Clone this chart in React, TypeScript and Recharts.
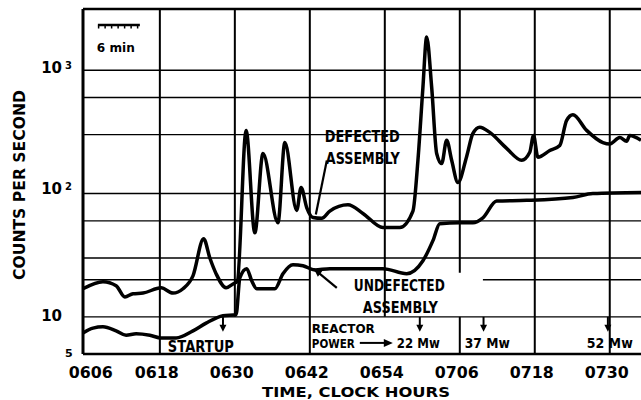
import React from 'react';
import { LineChart, Line, XAxis, YAxis, CartesianGrid, ReferenceLine, ReferenceDot } from 'recharts';

// minutes after 0606
const timeTicks = [0, 12, 24, 36, 48, 60, 72, 84];
const timeLabels = ['0606', '0618', '0630', '0642', '0654', '0706', '0718', '0730'];
const countGridTicks = [5, 10, 30, 40, 50, 60, 70, 80, 90, 100, 200, 300, 400, 500, 600, 700, 800, 900, 1000];

const defectedTime = [
  -0.3, 2.9, 5.0, 6.4, 7.7, 9.3, 12.2, 14.1, 15.7, 17.3, 19.0, 20.0, 21.0, 22.6, 23.7, 24.4,
  25.8, 27.2, 28.5, 30.9, 32.0, 33.9, 34.6, 35.5, 36.5, 37.9, 39.2, 42.1, 44.5, 47.7, 50.4, 52.5,
  53.3, 54.1, 54.7, 55.5, 56.3, 57.1, 57.9, 58.7, 59.7, 61.1, 62.1, 63.2, 64.8, 67.5, 69.9, 71.2,
  71.8, 72.5, 74.4, 76.0, 77.1, 78.1, 80.3, 82.9, 84.0, 85.6, 86.7, 87.2, 89.0,
];
const defectedCounts = [
  16.9, 19.3, 17.9, 14.5, 15.4, 15.6, 17.2, 15.6, 16.9, 21.5, 43, 30, 22.4, 17.2, 18.5, 19.5,
  325, 48, 211, 58, 259, 73, 112, 77, 64, 63, 72, 81, 69, 53, 53, 72,
  186, 727, 1854, 727, 211, 175, 270, 186, 123, 200, 307, 345, 313, 232, 186, 216,
  296, 197, 223, 245, 392, 435, 325, 259, 252, 284, 265, 296, 270,
];

const undefectedTime = [
  -0.3, 1.3, 2.9, 5.0, 6.6, 8.2, 10.4, 12.2, 14.6, 17.3, 19.4, 22.1, 24.2, 24.8, 25.9, 26.7,
  27.5, 30.4, 31.7, 33.3, 34.9, 36.8, 39.2, 47.7, 51.5, 54.1, 55.7, 56.8, 60.0, 62.1, 63.7,
  65.9, 70.7, 78.1, 81.3, 89.0,
];
const undefectedCounts = [
  7.4, 8.1, 8.3, 7.7, 7.1, 7.3, 7.1, 6.75, 6.75, 7.7, 8.9, 10.2, 10.4, 20.7, 24.6, 19.6,
  16.9, 16.9, 22.4, 26.5, 26, 24, 24.6, 24.6, 22.4, 28.5, 41.5, 57, 58, 58, 63.6,
  87, 88, 93, 100, 102,
];

const defectedData = defectedTime.map((t, i) => ({ t, c: defectedCounts[i] }));
const undefectedData = undefectedTime.map((t, i) => ({ t, c: undefectedCounts[i] }));

const X_MIN = -0.3;
const X_MAX = 89;
const Y_MIN = 5;
const Y_MAX = 3133;

const FONT = "'DejaVu Sans', 'Liberation Sans', sans-serif";

const annotations = [
  { text: 'DEFECTED', t: 38.4, v: 260, len: 75, size: 15 },
  { text: 'ASSEMBLY', t: 38.56, v: 175, len: 74, size: 15 },
  { text: 'UNDEFECTED', t: 43.04, v: 16.3, len: 91, size: 15 },
  { text: 'ASSEMBLY', t: 44.48, v: 10.78, len: 75, size: 15 },
  { text: 'STARTUP', t: 13.28, v: 5.19, len: 66, size: 15 },
  { text: 'REACTOR', t: 36.32, v: 7.41, len: 63, size: 13 },
  { text: 'POWER', t: 36.32, v: 5.6, len: 43, size: 13 },
  { text: '22 Mw', t: 49.92, v: 5.6, len: 43, size: 14 },
  { text: '37 Mw', t: 60.8, v: 5.6, len: 45, size: 14 },
  { text: '52 Mw', t: 80.32, v: 5.6, len: 46, size: 14 },
  { text: '6 min', t: 1.92, v: 1401, len: 38, size: 13 },
];

const powerArrows = [22.1, 53.6, 63.8, 83.7];

const XTick = (props: any) => {
  const { x, y, payload } = props;
  const idx = timeTicks.indexOf(payload.value);
  const dx = payload.value === 0 ? 6 : -3;
  return (
    <text x={x + dx} y={y + 16} textAnchor="middle" fontFamily={FONT} fontWeight="bold" fontSize={16}
      textLength={44} lengthAdjust="spacingAndGlyphs" fill="#000">
      {timeLabels[idx]}
    </text>
  );
};

const YTick = (props: any) => {
  const { y, payload } = props;
  const v = payload.value;
  const common = { fontFamily: FONT, fontWeight: 'bold' as const, fill: '#000' };
  if (v === 1000 || v === 100) {
    const dy = v === 1000 ? 3 : 0;
    return (
      <g>
        <text x={62} y={y + dy} textAnchor="end" fontSize={15} {...common}>10</text>
        <text x={65} y={y + dy - 4} fontSize={10} {...common}>{v === 1000 ? '3' : '2'}</text>
      </g>
    );
  }
  if (v === 10) {
    return <text x={62} y={y + 4} textAnchor="end" fontSize={15} {...common}>10</text>;
  }
  if (v === 5) {
    return <text x={65} y={y + 3} fontSize={11} {...common}>5</text>;
  }
  return <g />;
};

const textShape = (a: any) => (p: any) => (
  <text x={p.cx} y={p.cy} fontFamily={FONT} fontWeight="bold" fontSize={a.size} fill="#000"
    textLength={a.len} lengthAdjust="spacingAndGlyphs">
    {a.text}
  </text>
);

const downArrow = (p: any) => (
  <g>
    <line x1={p.cx} y1={p.cy} x2={p.cx} y2={p.cy + 10} stroke="#000" strokeWidth={2} />
    <path d={`M${p.cx - 3.5},${p.cy + 8} L${p.cx + 3.5},${p.cy + 8} L${p.cx},${p.cy + 15} Z`} fill="#000" />
  </g>
);

const rightArrow = (p: any) => (
  <g>
    <line x1={p.cx} y1={p.cy} x2={p.cx + 27} y2={p.cy} stroke="#000" strokeWidth={2} />
    <path d={`M${p.cx + 24},${p.cy - 4} L${p.cx + 33},${p.cy} L${p.cx + 24},${p.cy + 4} Z`} fill="#000" />
  </g>
);

const leaderHead = (p: any) => (
  <path d={`M${p.cx},${p.cy} L${p.cx + 8.4},${p.cy + 2.4} L${p.cx + 4},${p.cy + 7.8} Z`} fill="#000" />
);

export default function App() {
  return (
    <div style={{ position: 'absolute', left: 0, top: 0, width: 641, height: 400, background: '#fff' }}>
      <LineChart width={641} height={400} margin={{ top: 9, right: 0, bottom: 0, left: 0 }}>
        <CartesianGrid vertical={false} stroke="#000" strokeWidth={1.4} strokeOpacity={1} />
        <XAxis dataKey="t" type="number" domain={[X_MIN, X_MAX]} ticks={timeTicks} allowDataOverflow
          height={46} tickLine={false} axisLine={{ stroke: '#000', strokeWidth: 2.5 }} tick={<XTick />}
          label={() => (
            <text x={356} y={397} textAnchor="middle" fontFamily={FONT} fontWeight="bold" fontSize={14}
              textLength={188} lengthAdjust="spacingAndGlyphs" fill="#000">TIME, CLOCK HOURS</text>
          )} />
        <YAxis type="number" scale="log" domain={[Y_MIN, Y_MAX]} ticks={countGridTicks} allowDataOverflow
          width={83} tickLine={false} axisLine={{ stroke: '#000', strokeWidth: 3 }} tick={<YTick />}
          label={() => (
            <text x={0} y={0} transform="translate(25,185) rotate(-90)" textAnchor="middle" fontFamily={FONT}
              fontWeight="bold" fontSize={16} textLength={190} lengthAdjust="spacingAndGlyphs" fill="#000">
              COUNTS PER SECOND
            </text>
          )} />

        {/* top border */}
        <ReferenceLine y={Y_MAX} stroke="#000" strokeWidth={2.5} ifOverflow="visible" />
        {/* partial 20 grid line */}
        <ReferenceLine segment={[{ x: X_MIN, y: 20 }, { x: 36, y: 20 }]} stroke="#000" strokeWidth={1.4} />
        <ReferenceLine segment={[{ x: 63.7, y: 20 }, { x: X_MAX, y: 20 }]} stroke="#000" strokeWidth={1.4} />

        {/* vertical grid lines */}
        <ReferenceLine segment={[{ x: 12, y: Y_MIN }, { x: 12, y: Y_MAX }]} stroke="#000" strokeWidth={2} ifOverflow="visible" />
        <ReferenceLine segment={[{ x: 24, y: 10 }, { x: 24, y: Y_MAX }]} stroke="#000" strokeWidth={2} ifOverflow="visible" />
        <ReferenceLine segment={[{ x: 36, y: Y_MIN }, { x: 36, y: Y_MAX }]} stroke="#000" strokeWidth={2} ifOverflow="visible" />
        <ReferenceLine segment={[{ x: 48, y: 10 }, { x: 48, y: Y_MAX }]} stroke="#000" strokeWidth={2} ifOverflow="visible" />
        <ReferenceLine segment={[{ x: 60, y: 22.8 }, { x: 60, y: Y_MAX }]} stroke="#000" strokeWidth={2} ifOverflow="visible" />
        <ReferenceLine segment={[{ x: 60, y: Y_MIN }, { x: 60, y: 10 }]} stroke="#000" strokeWidth={2} ifOverflow="visible" />
        <ReferenceLine segment={[{ x: 72, y: Y_MIN }, { x: 72, y: Y_MAX }]} stroke="#000" strokeWidth={2} ifOverflow="visible" />
        <ReferenceLine segment={[{ x: 84, y: Y_MIN }, { x: 84, y: Y_MAX }]} stroke="#000" strokeWidth={2} ifOverflow="visible" />

        {/* 6 min scale bar */}
        <ReferenceLine segment={[{ x: 2.08, y: 2322 }, { x: 8.8, y: 2322 }]} stroke="#000" strokeWidth={2.5} />
        <ReferenceLine segment={[{ x: 2.08, y: 2237 }, { x: 8.8, y: 2237 }]} stroke="#000" strokeWidth={3} strokeDasharray="1.5 5" />

        {/* leader lines */}
        <ReferenceLine segment={[{ x: 38.72, y: 185.5 }, { x: 36.96, y: 67.5 }]} stroke="#000" strokeWidth={2.2} />
        <ReferenceLine segment={[{ x: 40.32, y: 17.2 }, { x: 36.64, y: 24.5 }]} stroke="#000" strokeWidth={2.2} />
        <ReferenceDot x={36.64} y={24.5} r={0} ifOverflow="visible" shape={leaderHead} />

        <Line data={undefectedData} dataKey="c" type="monotone" dot={false} stroke="#000" strokeWidth={3.5}
          isAnimationActive={false} />
        <Line data={defectedData} dataKey="c" type="monotone" dot={false} stroke="#000" strokeWidth={3.5}
          isAnimationActive={false} />

        {annotations.map((a, i) => (
          <ReferenceDot key={'a' + i} x={a.t} y={a.v} r={0} ifOverflow="visible" shape={textShape(a)} />
        ))}
        {powerArrows.map((t, i) => (
          <ReferenceDot key={'p' + i} x={t} y={10} r={0} ifOverflow="visible" shape={downArrow} />
        ))}
        <ReferenceDot x={44.0} y={6.15} r={0} ifOverflow="visible" shape={rightArrow} />
      </LineChart>
    </div>
  );
}
